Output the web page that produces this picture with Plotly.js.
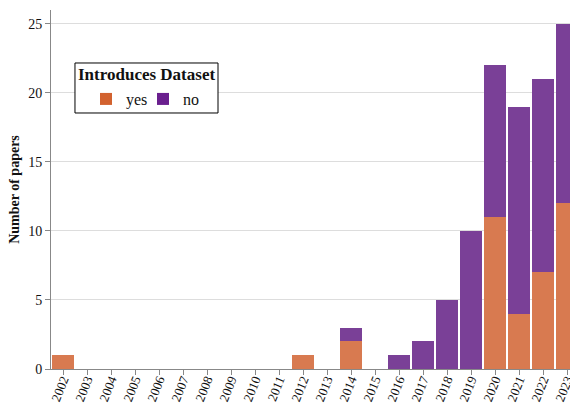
<!DOCTYPE html>
<html><head><meta charset="utf-8">
<script src="https://cdn.plot.ly/plotly-3.0.1.min.js"></script>
<style>html,body{margin:0;padding:0;background:#fff;}#chart{width:570px;height:405px;}</style>
</head><body><div id="chart"></div>
<script>
const years = ['2002','2003','2004','2005','2006','2007','2008','2009','2010','2011','2012','2013','2014','2015','2016','2017','2018','2019','2020','2021','2022','2023'];
const yesValues = [1,0,0,0,0,0,0,0,0,0,1,0,2,0,0,0,0,0,11,4,7,12];
const noValues  = [0,0,0,0,0,0,0,0,0,0,0,0,1,0,1,2,5,10,11,15,14,13];
const seriesNames = ['yes','no'];
const legendTitle = 'Introduces Dataset';

const font = 'Liberation Serif';
const barColors = ['#d87a50', '#7a4097'];
const swatchColors = ['#d2622f', '#6a1f8e'];
const traces = [
  {type:'bar', name:seriesNames[0], x:years, y:yesValues, marker:{color:barColors[0], line:{width:0}}, showlegend:false},
  {type:'bar', name:seriesNames[1], x:years, y:noValues, marker:{color:barColors[1], line:{width:0}}, showlegend:false},
  {type:'bar', name:seriesNames[0], x:[years[0]], y:[null], marker:{color:swatchColors[0]}, showlegend:true},
  {type:'bar', name:seriesNames[1], x:[years[0]], y:[null], marker:{color:swatchColors[1]}, showlegend:true}
];
const layout = {
  width:570, height:405,
  margin:{l:51, r:0, t:10, b:36},
  barmode:'stack', bargap:0.08,
  paper_bgcolor:'#fff', plot_bgcolor:'#fff',
  font:{family:font, size:14, color:'#111'},
  xaxis:{type:'category', range:[-0.5, 21.125], tickangle:-68, ticks:'outside', ticklen:5, tickcolor:'#888',
         ticklabelstandoff:-8, automargin:false,
         showline:true, linecolor:'#888', linewidth:1, showgrid:false, tickfont:{size:13, family:font, color:'#111'}},
  yaxis:{range:[0,26], dtick:5, ticks:'outside', ticklen:5, tickcolor:'#888', showline:true, linecolor:'#888',
         gridcolor:'#ddd', zeroline:false, tickfont:{size:14, family:font, color:'#111'}, automargin:false,
         title:{text:'<b>Number of papers</b>', font:{size:14, family:font, color:'#111'}, standoff:5}},
  shapes:[{type:'rect', xref:'paper', yref:'paper', x0:0.0462, x1:0.3218, y0:0.7131, y1:0.8524,
           line:{color:'#000', width:1}, fillcolor:'#fff', layer:'above'}],
  annotations:[{xref:'paper', yref:'paper', x:0.184, y:0.819, xanchor:'center', yanchor:'middle', showarrow:false,
                text:'<b>'+legendTitle+'</b>', font:{size:17, family:font, color:'#111'}}],
  legend:{x:0.0674, y:0.752, xanchor:'left', yanchor:'middle', orientation:'h', bgcolor:'rgba(0,0,0,0)', borderwidth:0,
          font:{size:16, family:font, color:'#111'}, traceorder:'normal', itemwidth:30, entrywidth:12}
};
Plotly.newPlot('chart', traces, layout, {displayModeBar:false, staticPlot:true});
</script></body></html>
